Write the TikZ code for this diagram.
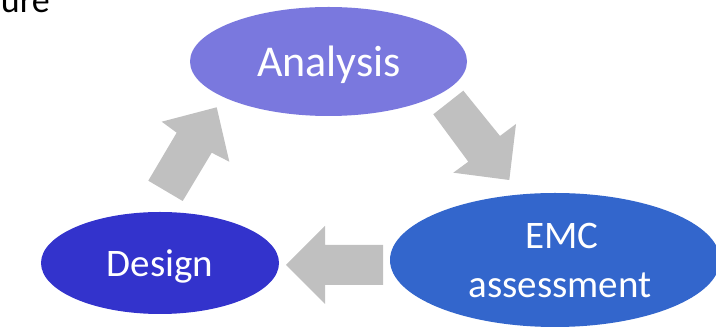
\documentclass[tikz,border=0pt]{standalone}
\usepackage{fontspec}
\setmainfont{Carlito}
\usetikzlibrary{shapes.geometric}
\definecolor{anacol}{RGB}{122,120,222}
\definecolor{descol}{RGB}{51,51,204}
\definecolor{emccol}{RGB}{51,102,204}
\definecolor{arrcol}{RGB}{192,192,192}
\tikzset{
  blob/.style={ellipse, inner sep=0pt, draw=none},
  lbl/.style={anchor=base, text=white},
  blockarrow/.style={fill=arrcol, draw=none}
}
\begin{document}
\begin{tikzpicture}[x=1pt,y=-1pt]
\useasboundingbox (0,0) rectangle (716,328);
\clip (0,0) rectangle (716,328);
\fill[white] (0,0) rectangle (716,328);
% cut caption fragment
\node[anchor=base east, inner sep=0pt, font=\fontsize{36}{43}\selectfont] (cap) at (50,13) {ure};
% ellipses
\node[blob, fill=anacol, minimum width=277pt, minimum height=109pt] (analysis) at (328.5,61.5) {};
\node[blob, fill=descol, minimum width=238pt, minimum height=102pt] (design) at (160,263) {};
\node[blob, fill=emccol, minimum width=330pt, minimum height=134pt] (emc) at (555,260) {};
% labels
\node[lbl, font=\fontsize{44}{53}\selectfont] (analysisT) at (329,77) {Analysis};
\node[lbl, font=\fontsize{39}{47}\selectfont] (designT) at (160,277) {Design};
\node[lbl, font=\fontsize{39}{47}\selectfont] (emcT1) at (562,249) {EMC};
\node[lbl, font=\fontsize{39}{47}\selectfont] (emcT2) at (560,298) {assessment};
% block arrows
\fill[blockarrow] (161.7,121.7) -- (216.7,107.3) -- (229.3,161.7) -- (211.7,152.7) -- (182.7,201) -- (148.3,180.7) -- (176.7,132.7) -- cycle;
\fill[blockarrow] (463.3,90.7) -- (500,136) -- (516,124) -- (509.3,180) -- (453.3,172.7) -- (468.3,161.7) -- (433.3,114.3) -- cycle;
\fill[blockarrow] (286,265) -- (325,226) -- (325,245) -- (383,245) -- (383,285) -- (325,285) -- (325,304) -- cycle;
\end{tikzpicture}
\end{document}
